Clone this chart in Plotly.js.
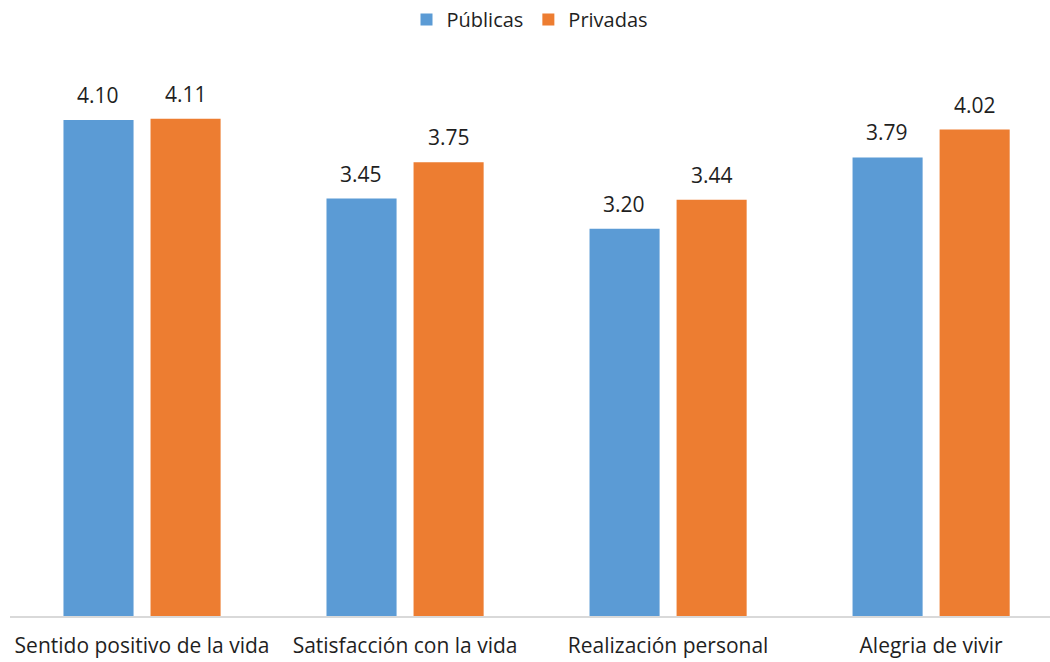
<!DOCTYPE html>
<html>
<head>
<meta charset="utf-8">
<script src="https://cdn.plot.ly/plotly-3.0.1.min.js"></script>
<style>html,body{margin:0;padding:0;background:#fff}#chart{width:1050px;height:662px}</style>
</head>
<body>
<div id="chart"></div>
<script>
var categories = ["Sentido positivo de la vida", "Satisfacción con la vida", "Realización personal", "Alegria de vivir"];
var publicas = [4.10, 3.45, 3.20, 3.79];
var privadas = [4.11, 3.75, 3.44, 4.02];
var seriesNames = ["Públicas", "Privadas"];
var colors = ["#5B9BD5", "#ED7D31"];

var FONT = "Open Sans, Liberation Sans, sans-serif";
var TXT = "#1f1f1f";

var traces = [publicas, privadas].map(function (vals, i) {
  return {
    type: "bar",
    name: seriesNames[i],
    x: categories,
    y: vals,
    marker: {color: colors[i]},
    hoverinfo: "x+y+name"
  };
});

var annotations = [];
[publicas, privadas].forEach(function (vals, i) {
  vals.forEach(function (v, j) {
    annotations.push({
      x: categories[j], y: v, xref: "x", yref: "y",
      text: v.toFixed(2), showarrow: false,
      xshift: i === 0 ? -44 : 44, yshift: 25,
      font: {family: FONT, size: 21, color: TXT}
    });
  });
});

var layout = {
  width: 1050, height: 662,
  margin: {l: 10, r: 0, t: 72, b: 46},
  paper_bgcolor: "#fff", plot_bgcolor: "#fff",
  barmode: "group", bargap: 0.338, bargroupgap: 0.195,
  font: {family: FONT, color: TXT},
  showlegend: true,
  legend: {orientation: "h", x: 0.5, xanchor: "center", y: 1, yref: "container", yanchor: "top",
           font: {family: FONT, size: 20, color: TXT}, itemwidth: 30, traceorder: "normal"},
  xaxis: {
    type: "category", range: [-0.502, 3.452],
    showline: true, linecolor: "#D9D9D9", linewidth: 2,
    ticks: "", ticklabelstandoff: 10, tickfont: {family: FONT, size: 21, color: TXT},
    showgrid: false, zeroline: false, fixedrange: true
  },
  yaxis: {
    range: [0, 4.496], visible: false, showgrid: false, zeroline: false, fixedrange: true
  },
  annotations: annotations
};

Plotly.newPlot("chart", traces, layout, {displayModeBar: false, staticPlot: true});
</script>
</body>
</html>
